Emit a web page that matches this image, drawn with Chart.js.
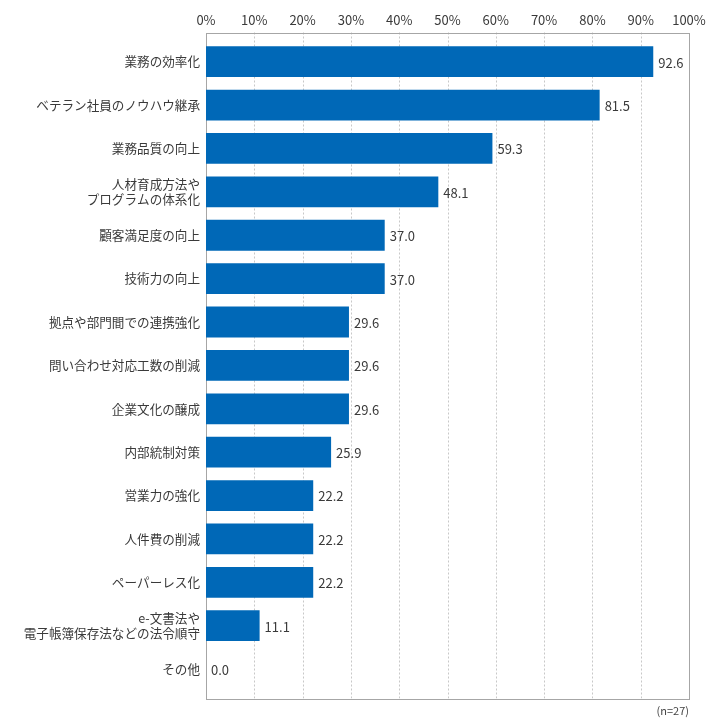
<!DOCTYPE html>
<html lang="ja">
<head>
<meta charset="utf-8">
<title>chart</title>
<script src="https://cdn.jsdelivr.net/npm/chart.js@4.4.1/dist/chart.umd.min.js"></script>
<style>
  html, body { margin: 0; padding: 0; background: #fff; }
  #wrap { width: 728px; height: 728px; }
</style>
</head>
<body>
<div id="wrap"><canvas id="chart" width="728" height="728"></canvas></div>
<script>
// データ
const categories = [
  '業務の効率化',
  'ベテラン社員のノウハウ継承',
  '業務品質の向上',
  ['人材育成方法や', 'プログラムの体系化'],
  '顧客満足度の向上',
  '技術力の向上',
  '拠点や部門間での連携強化',
  '問い合わせ対応工数の削減',
  '企業文化の醸成',
  '内部統制対策',
  '営業力の強化',
  '人件費の削減',
  'ペーパーレス化',
  ['e-文書法や', '電子帳簿保存法などの法令順守'],
  'その他'
];
const values = [92.6, 81.5, 59.3, 48.1, 37.0, 37.0, 29.6, 29.6, 29.6, 25.9, 22.2, 22.2, 22.2, 11.1, 0.0];
const xTicks = [0, 10, 20, 30, 40, 50, 60, 70, 80, 90, 100];
const noteText = '(n=27)';

const FONT = "'Noto Sans CJK JP', 'Noto Sans', sans-serif";
const EXTRA = 7.5; // 枠の上下の余白

// 枠線・グリッド・数値ラベルを描くプラグイン
const framePlugin = {
  id: 'frame',
  beforeDatasetsDraw(chart) {
    const { ctx, chartArea } = chart;
    const x = chart.scales.x;
    const top = chartArea.top - EXTRA;
    const bottom = chartArea.bottom + EXTRA;
    ctx.save();
    ctx.strokeStyle = '#c8c8c8';
    ctx.lineWidth = 1;
    ctx.setLineDash([2, 2]);
    xTicks.slice(1, -1).forEach(v => {
      const px = Math.round(x.getPixelForValue(v)) + 0.5;
      ctx.beginPath();
      ctx.moveTo(px, top);
      ctx.lineTo(px, bottom);
      ctx.stroke();
    });
    ctx.setLineDash([]);
    ctx.strokeStyle = '#a6a6a6';
    ctx.strokeRect(Math.round(chartArea.left) + 0.5, Math.round(top) + 0.5,
      Math.round(chartArea.right - chartArea.left), Math.round(bottom - top));
    ctx.restore();
  },
  afterDatasetsDraw(chart) {
    const { ctx } = chart;
    const meta = chart.getDatasetMeta(0);
    ctx.save();
    ctx.font = '13px ' + FONT;
    ctx.fillStyle = '#3a3a3a';
    ctx.textAlign = 'left';
    ctx.textBaseline = 'middle';
    meta.data.forEach((bar, i) => {
      ctx.fillText(values[i].toFixed(1), bar.x + 5, bar.y + 1);
    });
    ctx.restore();
  }
};

const ctx = document.getElementById('chart').getContext('2d');
const chart = new Chart(ctx, {
  type: 'bar',
  data: {
    labels: categories,
    datasets: [{
      data: values,
      backgroundColor: '#0068b7',
      borderWidth: 0,
      categoryPercentage: 1,
      barPercentage: 0.71
    }]
  },
  options: {
    indexAxis: 'y',
    responsive: false,
    animation: false,
    layout: { padding: { left: 0, right: 39, top: 0, bottom: 11 } },
    plugins: {
      legend: { display: false },
      tooltip: { enabled: false },
      title: {
        display: true,
        text: noteText,
        position: 'bottom',
        align: 'end',
        color: '#444',
        font: { family: FONT, size: 11, weight: 'normal' },
        padding: { top: 13, bottom: 0 }
      }
    },
    scales: {
      x: {
        position: 'top',
        min: 0,
        max: 100,
        afterBuildTicks(scale) {
          scale.ticks = xTicks.map(v => ({ value: v }));
        },
        afterFit(scale) { scale.height = 40; },
        grid: { display: false, drawTicks: false },
        border: { display: false },
        ticks: {
          padding: 12,
          color: '#3a3a3a',
          maxRotation: 0,
          font: { family: FONT, size: 13 },
          callback: v => v + '%'
        }
      },
      y: {
        afterFit(scale) { scale.width = 206; },
        grid: { display: false, drawTicks: false },
        border: { display: false },
        ticks: {
          padding: 6,
          color: '#3a3a3a',
          autoSkip: false,
          font: { family: FONT, size: 12.6, lineHeight: 1.15 }
        }
      }
    }
  },
  plugins: [framePlugin]
});
</script>
</body>
</html>
